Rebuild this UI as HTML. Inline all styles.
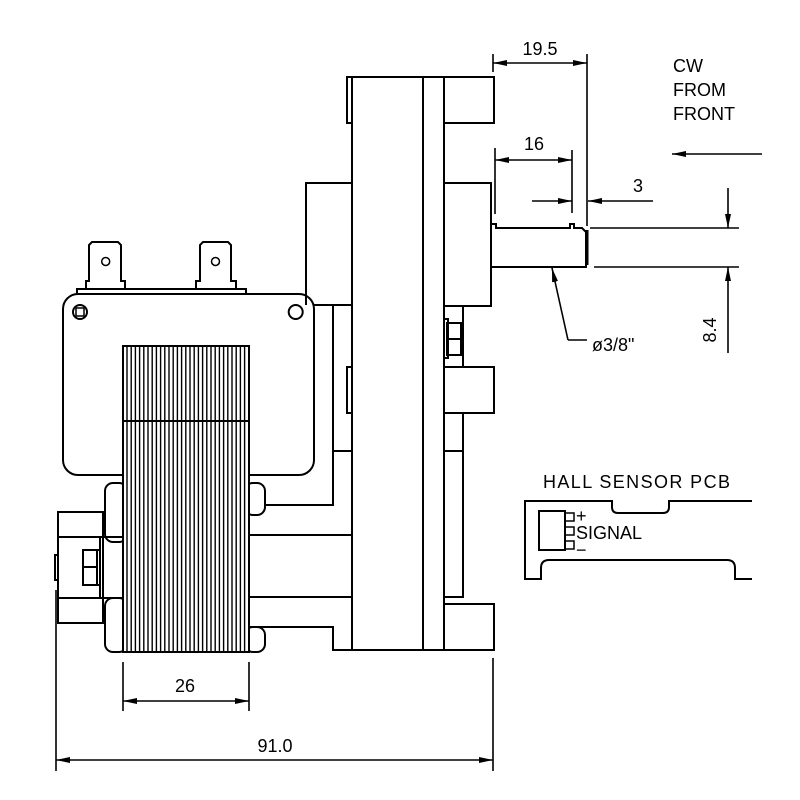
<!DOCTYPE html>
<html><head><meta charset="utf-8"><style>
html,body{margin:0;padding:0;background:#fff;}
svg{display:block;}
text{font-family:"Liberation Sans","DejaVu Sans",sans-serif;fill:#000;}
</style></head><body>
<svg width="800" height="800" viewBox="0 0 800 800" xmlns="http://www.w3.org/2000/svg">
<defs>
<marker id="a" viewBox="0 0 14 6" refX="14" refY="3" markerWidth="14" markerHeight="6" orient="auto-start-reverse" markerUnits="userSpaceOnUse"><path d="M0,0 L14,3 L0,6 Z" fill="#000"/></marker>
</defs>
<g fill="none" stroke="#000" stroke-width="2">
<path d="M86,289 V281 H89 V245 L92,242 H118 L121,245 V281 H125 V289" fill="#fff"/>
<path d="M196,289 V281 H200 V245 L203,242 H228 L231,245 V281 H236 V289" fill="#fff"/>
<circle cx="105.7" cy="261.5" r="4" stroke-width="1.5"/>
<circle cx="215.5" cy="261.5" r="4" stroke-width="1.5"/>
<rect x="77" y="289" width="169" height="5"/>
<rect x="63" y="294" width="251" height="181" rx="15" fill="#fff"/>
<circle cx="80" cy="312" r="7"/>
<rect x="76" y="308" width="8" height="8" stroke-width="1.5"/>
<circle cx="295.7" cy="312" r="7"/>
<rect x="105" y="483" width="22" height="59" rx="8" fill="#fff"/>
<rect x="245" y="483" width="20" height="32" rx="8" fill="#fff"/>
<path d="M265,505 H333"/>
<path d="M249,535 H352 M249,597 H352"/>
<path d="M249,627 H333"/>
<rect x="105" y="598" width="22" height="54" rx="8" fill="#fff"/>
<rect x="245" y="627" width="20" height="25" rx="8" fill="#fff"/>
<rect x="58" y="512" width="45" height="111" fill="#fff"/>
<path d="M58,537 H100 V598 M58,598 H123 M100,537 H123"/>
<rect x="83" y="550" width="17" height="35" fill="#fff"/>
<path d="M83,567 H97 M97,550 V585"/>
<rect x="55" y="555" width="3" height="25"/>
<rect x="123" y="346" width="126" height="306" fill="#fff"/>
<path d="M123,421 H249"/>
</g>
<g stroke="#000" stroke-width="1.4">
<path d="M127,346V652M131.2,346V652M135.4,346V652M139.6,346V652M143.8,346V652M148,346V652M152.2,346V652M156.4,346V652M160.6,346V652M164.8,346V652M169,346V652M173.2,346V652M177.4,346V652M181.6,346V652M185.8,346V652M190,346V652M194.2,346V652M198.4,346V652M202.6,346V652M206.8,346V652M211,346V652M215.2,346V652M219.4,346V652M223.6,346V652M227.8,346V652M232,346V652M236.2,346V652M240.4,346V652M244.6,346V652"/>
</g>
<g fill="none" stroke="#000" stroke-width="2">
<path d="M306,305 V183 H352"/>
<path d="M314,305 H352"/>
<path d="M333,305 V505 H290"/>
<path d="M333,451 H352"/>
<path d="M290,627 H333 V650 H494"/>
<rect x="347" y="77" width="6" height="46"/>
<rect x="347" y="367" width="6" height="46"/>
<rect x="352" y="77" width="92" height="573" fill="#fff"/>
<path d="M423,77 V650"/>
<rect x="444" y="77" width="50" height="46"/>
<rect x="444" y="183" width="47" height="123"/>
<path d="M444,306 H463 V597 H444 M444,451 H463"/>
<rect x="447" y="323" width="14" height="32"/>
<path d="M447,339 H461"/>
<rect x="444" y="319" width="4" height="39"/>
<rect x="444" y="367" width="50" height="46" fill="#fff"/>
<rect x="444" y="604" width="50" height="46"/>
<path d="M491,267 H586 V232 L582,228 H574 V224 H570 V228 H496 V224 H491"/>
<path d="M587,230 V265" stroke-width="3"/>
</g>
<g fill="none" stroke="#000" stroke-width="1.6">
<path d="M493,54 V72 M587,54 V226"/>
<path d="M493,63 H587" marker-start="url(#a)" marker-end="url(#a)"/>
<path d="M495,148 V214 M572,150 V213"/>
<path d="M495,160 H572" marker-start="url(#a)" marker-end="url(#a)"/>
<path d="M532,201 H572" marker-end="url(#a)"/>
<path d="M653,201 H588" marker-end="url(#a)"/>
<path d="M762,154 H672" marker-end="url(#a)"/>
<path d="M590,228 H739 M594,267 H739"/>
<path d="M728,188 V228" marker-end="url(#a)"/>
<path d="M728,353 V267" marker-end="url(#a)"/>
<path d="M568,340 L552,268" marker-end="url(#a)"/>
<path d="M568,340 H587"/>
<path d="M123,662 V711 M249,662 V711"/>
<path d="M123,701 H249" marker-start="url(#a)" marker-end="url(#a)"/>
<path d="M56,590 V771 M493,658 V771"/>
<path d="M56,760 H493" marker-start="url(#a)" marker-end="url(#a)"/>
</g>
<g fill="none" stroke="#000" stroke-width="2">
<path d="M752,501 H669 V507 Q669,513 663,513 H618 Q612,513 612,507 V501 H525 V579 H541 V568 Q541,560 549,560 H727 Q735,560 735,568 V579 H752"/>
<rect x="539" y="511" width="26" height="39"/>
</g>
<g fill="none" stroke="#000" stroke-width="1.5">
<rect x="565" y="513" width="9" height="8"/>
<rect x="565" y="527" width="9" height="8"/>
<rect x="565" y="541" width="9" height="8"/>
</g>
<g font-size="18">
<text x="540" y="55" text-anchor="middle">19.5</text>
<text x="534" y="150" text-anchor="middle">16</text>
<text x="638" y="192" text-anchor="middle">3</text>
<text x="673" y="72">CW</text>
<text x="673" y="96">FROM</text>
<text x="673" y="120">FRONT</text>
<text x="592" y="351">ø3/8"</text>
<text transform="translate(716,330) rotate(-90)" text-anchor="middle">8.4</text>
<text x="185" y="692" text-anchor="middle">26</text>
<text x="275" y="752" text-anchor="middle">91.0</text>
<text x="543" y="488" textLength="187">HALL SENSOR PCB</text>
<text x="576" y="522">+</text>
<text x="576" y="539">SIGNAL</text>
<text x="576" y="556">−</text>
</g>
</svg>
</body></html>
